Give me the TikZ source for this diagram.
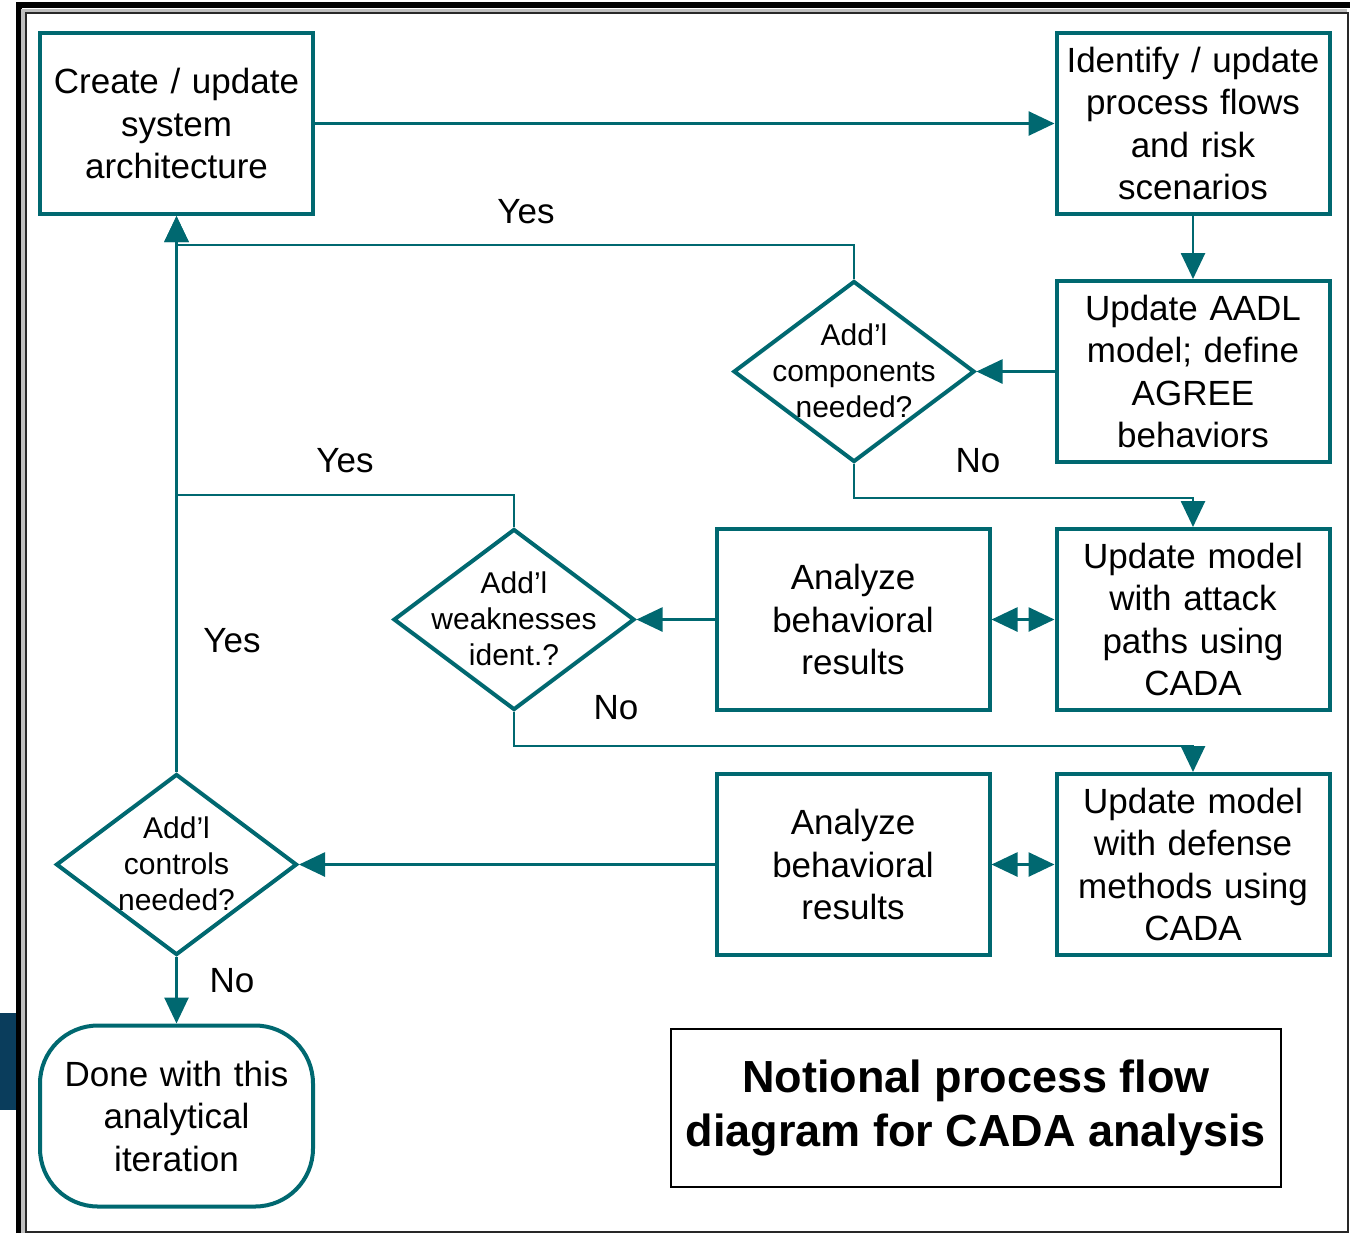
\documentclass[tikz,border=0pt]{standalone}
\usepackage{fontspec}
\setmainfont{Liberation Sans}
\usepackage{tikz}
\usetikzlibrary{shapes.geometric, arrows.meta, positioning}
\definecolor{myteal}{RGB}{0,104,112}
\definecolor{mynavy}{RGB}{10,61,92}
\definecolor{myframe}{RGB}{40,40,40}
\definecolor{mygray}{RGB}{190,190,190}
% text of a decision node, free to run over the diamond
\newcommand{\dlabel}[1]{\smash{\raisebox{-5pt}{\makebox[0pt]{\begin{tabular}{@{}c@{}}#1\end{tabular}}}}}
\tikzset{
  block/.style={rectangle, draw=myteal, fill=white,
    text width=126.5pt, align=center, minimum height=90.5pt,
    inner xsep=5pt, inner ysep=2pt,
    font=\fontsize{17.5}{21.25}\selectfont, line width=2pt},
  endblock/.style={block, rounded corners=29pt},
  decision/.style={diamond, draw=myteal, fill=white,
    minimum width=120.5pt, minimum height=90.5pt, inner sep=0pt,
    font=\fontsize{15}{18}\selectfont, line width=2pt},
  titlebox/.style={rectangle, draw=black, line width=0.75pt,
    minimum width=305pt, minimum height=79pt, align=center,
    font=\fontsize{22.5}{27}\selectfont\bfseries},
  yesno/.style={font=\fontsize{17.5}{21}\selectfont},
  arrow/.style={-{Triangle[length=13pt, width=12pt]}, line width=1.35pt, color=myteal},
  dblarrow/.style={{Triangle[length=13pt, width=12pt]}-{Triangle[length=13pt, width=12pt]},
    line width=1.35pt, color=myteal},
  line/.style={line width=1.35pt, color=myteal}
}
\begin{document}
\begin{tikzpicture}[x=0.5pt, y=-0.5pt]
  \useasboundingbox (0,0) rectangle (1350,1233);
  % frame
  \fill[mynavy] (0,1013) rectangle (16,1110);
  \draw[line width=3pt] (18.5,1233) -- (18.5,5) -- (1350,5);
  \draw[mygray, line width=2pt] (23,1233) -- (23,10.5) -- (1347,10.5);
  \draw[myframe, line width=0.75pt] (26,13) rectangle (1348,1232);
  % boxes
  \node[block] (create) at (176.5,123.5) {Create / update\\system\\architecture};
  \node[block] (identify) at (1193,123.5) {Identify / update\\process flows\\and risk\\scenarios};
  \node[block, below=31.5pt of identify] (aadl) {Update AADL\\model; define\\AGREE\\behaviors};
  \node[block, below=31.5pt of aadl] (attack) {Update model\\with attack\\paths using\\CADA};
  \node[block, below=30pt of attack] (defense) {Update model\\with defense\\methods using\\CADA};
  \node[block, left=31.5pt of attack] (results1) {Analyze\\behavioral\\results};
  \node[block, left=31.5pt of defense] (results2) {Analyze\\behavioral\\results};
  \node[decision, left=39pt of aadl] (compq) {\dlabel{Add’l\\components\\needed?}};
  \node[decision, left=39pt of results1] (weakq) {\dlabel{Add’l\\weaknesses\\ident.?}};
  \node[decision] (ctrlq) at (create |- results2) {\dlabel{Add’l\\controls\\needed?}};
  \node[endblock] (done) at (176.5,1116) {Done with this\\analytical\\iteration};
  \node[titlebox] (caption) at (976,1108) {Notional process flow\\diagram for CADA analysis};
  % branch labels
  \node[yesno] (yes1) at (526,212) {Yes};
  \node[yesno] (no1) at (978,461) {No};
  \node[yesno] (yes2) at (345,461) {Yes};
  \node[yesno] (no2) at (616,708) {No};
  \node[yesno] (yes3) at (232,641) {Yes};
  \node[yesno] (no3) at (232,981) {No};
  % connectors
  \draw[arrow] (create) -- (identify);
  \draw[arrow] (identify) -- (aadl);
  \draw[arrow] (aadl) -- (compq);
  \draw[arrow] (compq.north) -- ++(0,-34) -| (create.south);
  \draw[arrow] (compq.south) -- ++(0,34) -| (attack.north);
  \draw[arrow] (results1) -- (weakq);
  \draw[dblarrow] (results1) -- (attack);
  \coordinate (weakjoin) at (176.5,495);
  \draw[line] (weakq.north) |- (weakjoin);
  \draw[arrow] (weakq.south) -- ++(0,34) -| (defense.north);
  \draw[arrow] (results2) -- (ctrlq);
  \draw[dblarrow] (results2) -- (defense);
  \draw[arrow] (ctrlq) -- (create);
  \draw[arrow] (ctrlq) -- (done);
\end{tikzpicture}
\end{document}
